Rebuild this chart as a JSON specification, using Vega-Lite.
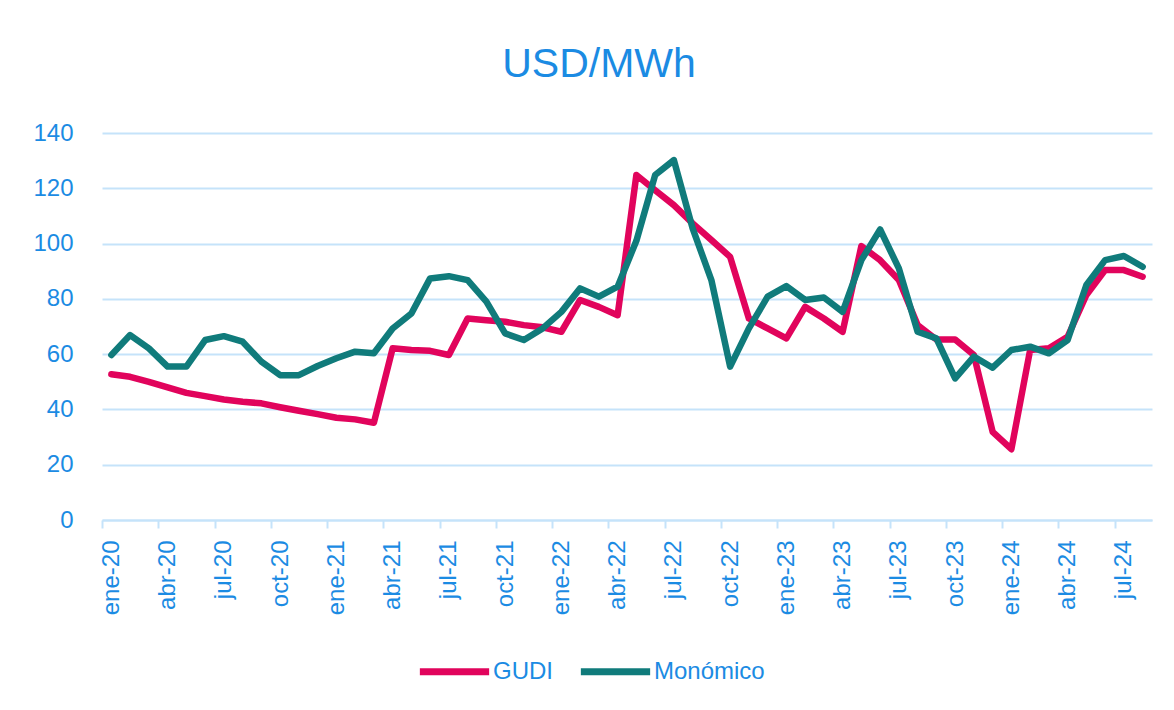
{
  "$schema": "https://vega.github.io/schema/vega-lite/v6.json",
  "width": 1050,
  "height": 387,
  "autosize": {"type": "none"},
  "padding": {"left": 102, "top": 133, "right": 22, "bottom": 190},
  "background": "white",
  "title": {"text": "USD/MWh", "fontSize": 41, "font": "Liberation Sans", "fontWeight": "normal", "color": "#1b8be3", "anchor": "middle", "frame": "group", "dx": -28, "offset": 35},
  "data": {"values": [
    {"mes": "ene-20", "GUDI": 52.7, "Monómico": 59.7},
    {"mes": "feb-20", "GUDI": 51.8, "Monómico": 66.9},
    {"mes": "mar-20", "GUDI": 50.0, "Monómico": 62.1},
    {"mes": "abr-20", "GUDI": 48.0, "Monómico": 55.5},
    {"mes": "may-20", "GUDI": 46.0, "Monómico": 55.5},
    {"mes": "jun-20", "GUDI": 44.8, "Monómico": 65.1},
    {"mes": "jul-20", "GUDI": 43.6, "Monómico": 66.5},
    {"mes": "ago-20", "GUDI": 42.8, "Monómico": 64.5},
    {"mes": "sep-20", "GUDI": 42.2, "Monómico": 57.3},
    {"mes": "oct-20", "GUDI": 40.8, "Monómico": 52.4},
    {"mes": "nov-20", "GUDI": 39.5, "Monómico": 52.4},
    {"mes": "dic-20", "GUDI": 38.3, "Monómico": 55.7},
    {"mes": "ene-21", "GUDI": 37.0, "Monómico": 58.5},
    {"mes": "feb-21", "GUDI": 36.4, "Monómico": 60.9},
    {"mes": "mar-21", "GUDI": 35.2, "Monómico": 60.3},
    {"mes": "abr-21", "GUDI": 62.1, "Monómico": 69.3},
    {"mes": "may-21", "GUDI": 61.5, "Monómico": 74.7},
    {"mes": "jun-21", "GUDI": 61.2, "Monómico": 87.4},
    {"mes": "jul-21", "GUDI": 59.7, "Monómico": 88.2},
    {"mes": "ago-21", "GUDI": 72.9, "Monómico": 86.8},
    {"mes": "sep-21", "GUDI": 72.3, "Monómico": 79.0},
    {"mes": "oct-21", "GUDI": 71.7, "Monómico": 67.5},
    {"mes": "nov-21", "GUDI": 70.5, "Monómico": 65.1},
    {"mes": "dic-21", "GUDI": 69.7, "Monómico": 69.3},
    {"mes": "ene-22", "GUDI": 68.1, "Monómico": 75.3},
    {"mes": "feb-22", "GUDI": 79.6, "Monómico": 83.8},
    {"mes": "mar-22", "GUDI": 77.1, "Monómico": 80.8},
    {"mes": "abr-22", "GUDI": 74.1, "Monómico": 84.4},
    {"mes": "may-22", "GUDI": 124.8, "Monómico": 101.0},
    {"mes": "jun-22", "GUDI": 119.3, "Monómico": 124.8},
    {"mes": "jul-22", "GUDI": 113.9, "Monómico": 130.2},
    {"mes": "ago-22", "GUDI": 107.3, "Monómico": 105.5},
    {"mes": "sep-22", "GUDI": 101.3, "Monómico": 86.8},
    {"mes": "oct-22", "GUDI": 95.2, "Monómico": 55.5},
    {"mes": "nov-22", "GUDI": 72.9, "Monómico": 69.3},
    {"mes": "dic-22", "GUDI": 69.3, "Monómico": 80.8},
    {"mes": "ene-23", "GUDI": 65.7, "Monómico": 84.6},
    {"mes": "feb-23", "GUDI": 77.1, "Monómico": 79.6},
    {"mes": "mar-23", "GUDI": 72.9, "Monómico": 80.5},
    {"mes": "abr-23", "GUDI": 68.1, "Monómico": 75.3},
    {"mes": "may-23", "GUDI": 99.1, "Monómico": 94.0},
    {"mes": "jun-23", "GUDI": 94.0, "Monómico": 105.1},
    {"mes": "jul-23", "GUDI": 86.8, "Monómico": 91.0},
    {"mes": "ago-23", "GUDI": 70.5, "Monómico": 68.1},
    {"mes": "sep-23", "GUDI": 65.3, "Monómico": 65.7},
    {"mes": "oct-23", "GUDI": 65.3, "Monómico": 51.2},
    {"mes": "nov-23", "GUDI": 59.7, "Monómico": 59.1},
    {"mes": "dic-23", "GUDI": 31.9, "Monómico": 55.1},
    {"mes": "ene-24", "GUDI": 25.6, "Monómico": 61.5},
    {"mes": "feb-24", "GUDI": 61.5, "Monómico": 62.7},
    {"mes": "mar-24", "GUDI": 62.1, "Monómico": 60.3},
    {"mes": "abr-24", "GUDI": 66.3, "Monómico": 65.1},
    {"mes": "may-24", "GUDI": 81.4, "Monómico": 85.0},
    {"mes": "jun-24", "GUDI": 90.4, "Monómico": 94.0},
    {"mes": "jul-24", "GUDI": 90.4, "Monómico": 95.5},
    {"mes": "ago-24", "GUDI": 88.0, "Monómico": 91.6}
  ]},
  "transform": [{"fold": ["GUDI", "Monómico"], "as": ["serie", "valor"]}],
  "mark": {"type": "line", "strokeWidth": 6.5, "strokeCap": "round", "strokeJoin": "round"},
  "encoding": {
    "x": {
      "field": "mes", "type": "ordinal", "sort": null,
      "scale": {"type": "point", "padding": 0.5},
      "axis": {
        "title": null,
        "values": ["ene-20","abr-20","jul-20","oct-20","ene-21","abr-21","jul-21","oct-21","ene-22","abr-22","jul-22","oct-22","ene-23","abr-23","jul-23","oct-23","ene-24","abr-24","jul-24"],
        "labelAngle": -90,
        "labelFontSize": 24,
        "labelFont": "Liberation Sans",
        "labelColor": "#1b8be3",
        "domainColor": "#c5e3fa",
        "domainWidth": 2,
        "tickColor": "#c5e3fa",
        "tickWidth": 2,
        "tickSize": 8,
        "tickOffset": -9.375,
        "labelOffset": 9.375,
        "labelPadding": 12,
        "grid": false,
        "labelOverlap": false,
        "labelBound": false
      }
    },
    "y": {
      "field": "valor", "type": "quantitative",
      "scale": {"domain": [0, 140], "nice": false},
      "axis": {
        "title": null,
        "values": [0, 20, 40, 60, 80, 100, 120, 140],
        "domain": false,
        "ticks": false,
        "grid": true,
        "gridColor": "#c5e3fa",
        "gridWidth": 2,
        "labelFontSize": 24,
        "labelFont": "Liberation Sans",
        "labelColor": "#1b8be3",
        "labelPadding": 29
      }
    },
    "color": {
      "field": "serie", "type": "nominal",
      "scale": {"domain": ["GUDI", "Monómico"], "range": ["#e1045c", "#107b7b"]},
      "legend": {
        "orient": "none",
        "legendX": 314,
        "legendY": 500,
        "direction": "horizontal",
        "title": null,
        "symbolType": "stroke",
        "symbolSize": 4800,
        "symbolStrokeWidth": 7,
        "labelFontSize": 24,
        "labelFont": "Liberation Sans",
        "labelColor": "#1b8be3",
        "columnPadding": 13,
        "labelOffset": 0,
        "padding": 0
      }
    }
  },
  "config": {"view": {"stroke": null}, "font": "Liberation Sans"}
}
